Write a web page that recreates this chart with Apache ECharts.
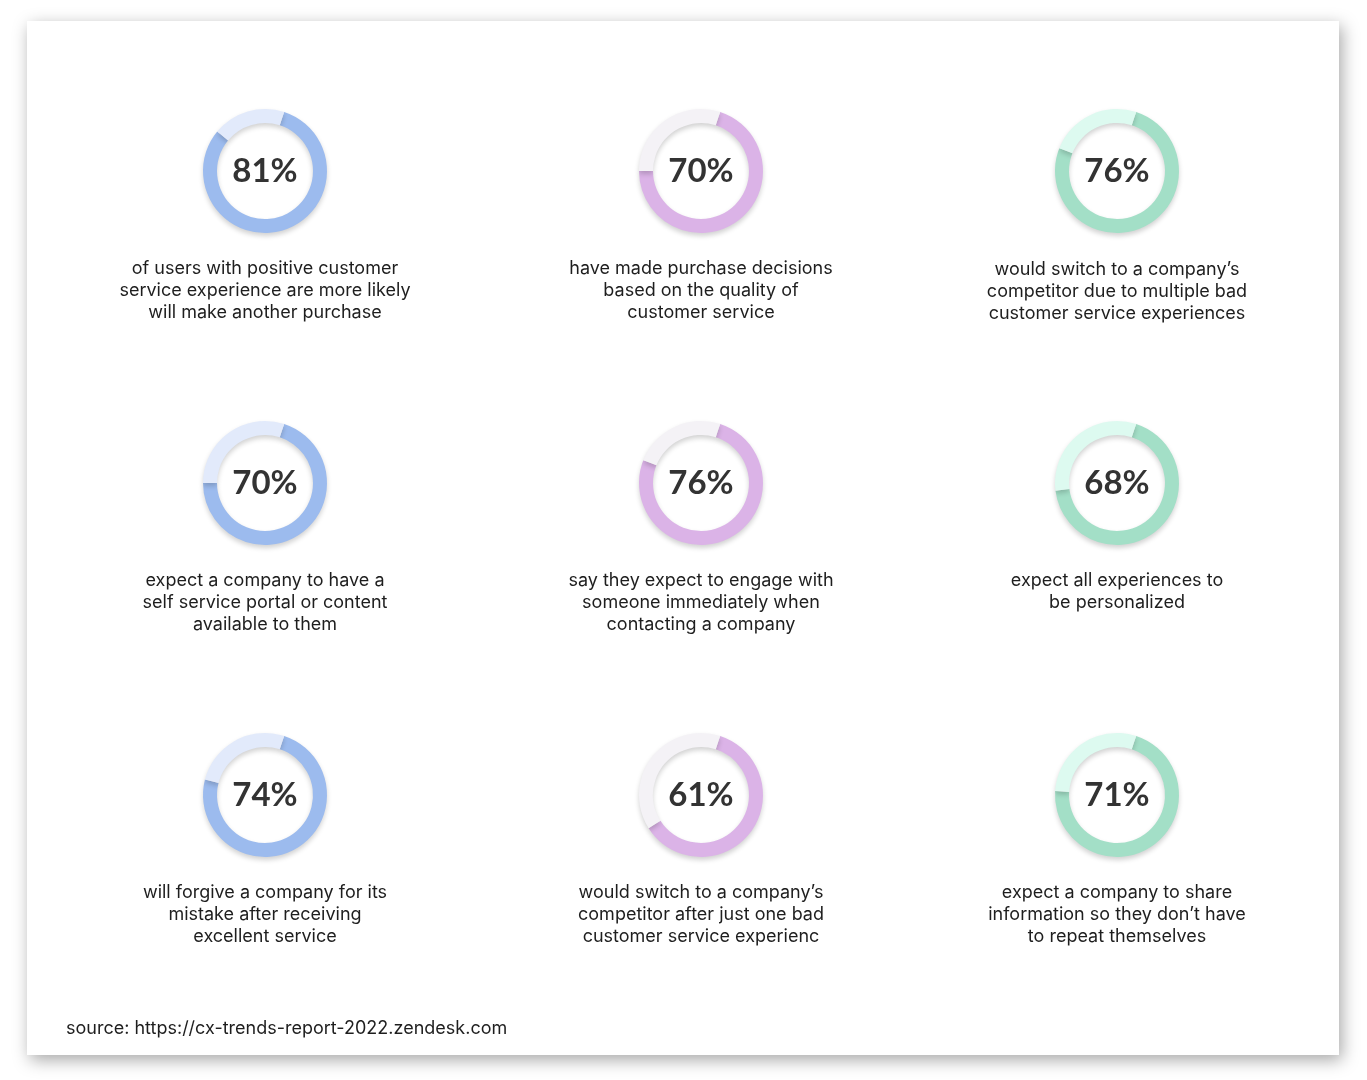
<!DOCTYPE html>
<html>
<head>
<meta charset="utf-8">
<script src="https://cdn.jsdelivr.net/npm/echarts@6/dist/echarts.min.js"></script>
<style>
  html, body { margin: 0; padding: 0; background: #fff; }
  #chart { width: 1367px; height: 1080px; }
</style>
</head>
<body>
<div id="chart"></div>
<script>
// percentages, row by row
const values = [81, 70, 76, 70, 76, 68, 74, 61, 71]
const descriptions = [
  'of users with positive customer\nservice experience are more likely\nwill make another purchase',
  'have made purchase decisions\nbased on the quality of\ncustomer service',
  'would switch to a company\u2019s\ncompetitor due to multiple bad\ncustomer service experiences',
  'expect a company to have a\nself service portal or content\navailable to them',
  'say they expect to engage with\nsomeone immediately when\ncontacting a company',
  'expect all experiences to\nbe personalized',
  'will forgive a company for its\nmistake after receiving\nexcellent service',
  'would switch to a company\u2019s\ncompetitor after just one bad\ncustomer service experienc',
  'expect a company to share\ninformation so they don\u2019t have\nto repeat themselves'
]
const sourceText = 'source: https://cx-trends-report-2022.zendesk.com'

// colours per column: [filled, rest]
const colColors = [
  ['#9cbbee', '#e2eafb'],
  ['#dbb3e7', '#f4f2f6'],
  ['#a3dfc7', '#ddfaf0']
]

const colX = [265, 701, 1117]
const rowY = [171, 483, 795]

let chart = echarts.init(document.getElementById('chart'))

let series = []
let titles = []
values.forEach((v, i) => {
  let col = i % 3
  let row = Math.floor(i / 3)
  series.push({
    type: 'pie',
    silent: true,
    center: [colX[col], rowY[row]],
    radius: [48, 62],
    startAngle: 72,
    clockwise: true,
    z: 3,
    label: { show: false },
    labelLine: { show: false },
    itemStyle: {
      shadowBlur: 5,
      shadowOffsetY: 3,
      shadowColor: 'rgba(0,0,0,0.18)'
    },
    data: [
      {
        value: v,
        itemStyle: { color: colColors[col][0] },
        label: {
          show: true,
          position: 'center',
          formatter: '{c}%',
          fontFamily: 'Lato',
          fontWeight: 'bold',
          fontSize: 33,
          color: '#333333',
          lineHeight: 36,
          padding: [6, 0, 0, 0]
        }
      },
      { value: 100 - v, itemStyle: { color: colColors[col][1] } }
    ]
  })
  titles.push({
    text: descriptions[i],
    left: colX[col],
    top: rowY[row] + 87 + (i === 2 ? 1 : 0),
    textAlign: 'center',
    padding: 0,
    textStyle: {
      fontFamily: 'Inter',
      fontWeight: 'normal',
      fontSize: 18,
      lineHeight: 22,
      color: '#1e1e1e'
    }
  })
})

titles.push({
  text: sourceText,
  left: 66,
  top: 1020,
  padding: 0,
  textStyle: {
    fontFamily: 'Inter',
    fontWeight: 'normal',
    fontSize: 18,
    color: '#1e1e1e'
  }
})

chart.setOption({
  animation: false,
  backgroundColor: '#ffffff',
  title: titles,
  graphic: [
    {
      type: 'rect',
      z: -10,
      shape: { x: 27, y: 21, width: 1312, height: 1034 },
      style: {
        fill: '#ffffff',
        shadowBlur: 16,
        shadowOffsetX: 3,
        shadowOffsetY: 5,
        shadowColor: 'rgba(0,0,0,0.35)'
      }
    }
  ],
  series: series
})
</script>
</body>
</html>
